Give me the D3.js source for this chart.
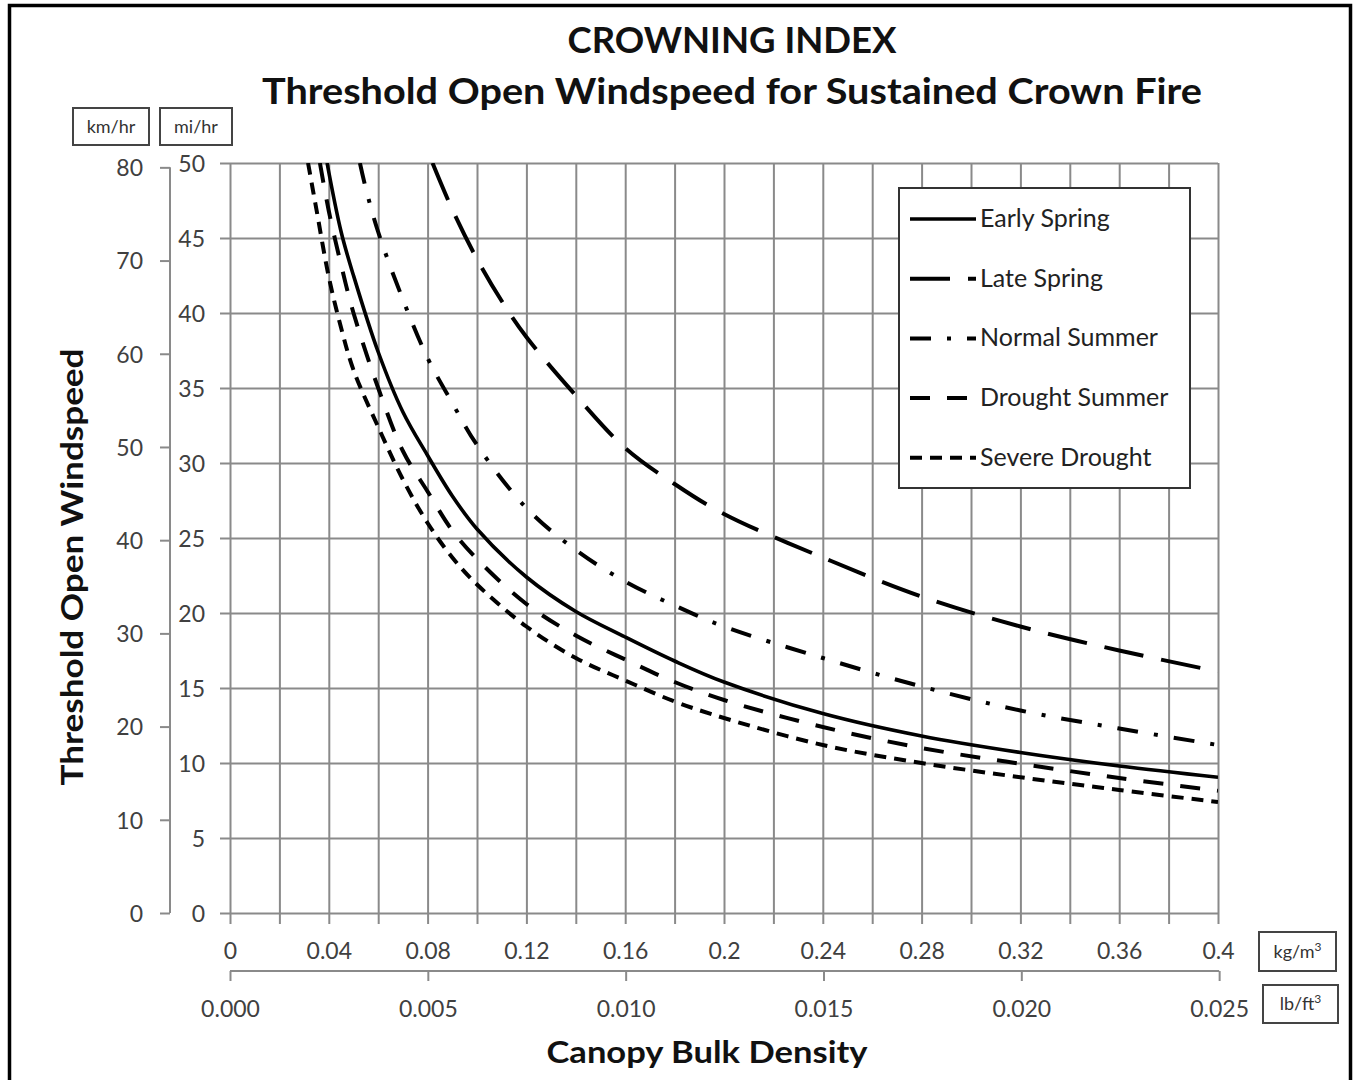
<!DOCTYPE html>
<html>
<head>
<meta charset="utf-8">
<script src="https://cdn.jsdelivr.net/npm/d3@7"></script>
<style>
  html, body { margin: 0; padding: 0; background: #fff; }
  svg { display: block; }
  text { font-family: Lato, "Open Sans", "DejaVu Sans", sans-serif; }
</style>
</head>
<body>
<svg id="chart" width="1354" height="1080"></svg>
<script>
// ---- Data: threshold open windspeed (mi/hr) vs canopy bulk density (kg/m3) ----
const earlySpringCBD = [0.0393, 0.045, 0.05, 0.06, 0.07, 0.08, 0.09, 0.10, 0.12, 0.14, 0.16, 0.18, 0.20, 0.24, 0.28, 0.32, 0.36, 0.40];
const earlySpringMph = [50, 45.4, 42.5, 37.4, 33.4, 30.5, 27.8, 25.6, 22.4, 20.1, 18.4, 16.8, 15.4, 13.3, 11.8, 10.7, 9.8, 9.05];

const lateSpringCBD = [0.082, 0.09, 0.10, 0.11, 0.12, 0.14, 0.16, 0.18, 0.20, 0.24, 0.28, 0.32, 0.36, 0.40];
const lateSpringMph = [50, 46.9, 43.6, 40.8, 38.4, 34.5, 31.0, 28.6, 26.6, 23.7, 21.1, 19.1, 17.5, 16.1];

const normalSummerCBD = [0.0526, 0.055, 0.06, 0.07, 0.08, 0.09, 0.10, 0.12, 0.14, 0.16, 0.18, 0.20, 0.24, 0.28, 0.32, 0.36, 0.40];
const normalSummerMph = [50, 48.3, 45.4, 40.9, 37.0, 34.0, 31.2, 27.0, 24.2, 22.1, 20.5, 19.1, 17.0, 15.1, 13.5, 12.3, 11.2];

const droughtSummerCBD = [0.0364, 0.04, 0.045, 0.05, 0.06, 0.07, 0.08, 0.09, 0.10, 0.12, 0.14, 0.16, 0.18, 0.20, 0.24, 0.28, 0.32, 0.36, 0.40];
const droughtSummerMph = [50, 46.8, 43.2, 40.0, 35.0, 30.8, 28.1, 25.5, 23.6, 20.6, 18.5, 16.9, 15.4, 14.2, 12.4, 11.0, 9.95, 9.0, 8.15];

const severeDroughtCBD = [0.0316, 0.035, 0.04, 0.045, 0.05, 0.06, 0.07, 0.08, 0.09, 0.10, 0.12, 0.14, 0.16, 0.18, 0.20, 0.24, 0.28, 0.32, 0.36, 0.40];
const severeDroughtMph = [50, 46.9, 42.4, 39.0, 36.2, 32.4, 28.9, 26.0, 23.7, 21.9, 19.1, 17.0, 15.5, 14.1, 13.0, 11.2, 10.0, 9.05, 8.2, 7.4];

const seriesNames = ["Early Spring", "Late Spring", "Normal Summer", "Drought Summer", "Severe Drought"];

// ---- Tick values and labels ----
const densityGrid = [0, 0.02, 0.04, 0.06, 0.08, 0.10, 0.12, 0.14, 0.16, 0.18, 0.20, 0.22, 0.24, 0.26, 0.28, 0.30, 0.32, 0.34, 0.36, 0.38, 0.40];
const densityTicks = [0, 0.04, 0.08, 0.12, 0.16, 0.2, 0.24, 0.28, 0.32, 0.36, 0.4];
const densityLabels = ["0", "0.04", "0.08", "0.12", "0.16", "0.2", "0.24", "0.28", "0.32", "0.36", "0.4"];
const lbTicks = [0, 0.005, 0.010, 0.015, 0.020, 0.025];
const lbLabels = ["0.000", "0.005", "0.010", "0.015", "0.020", "0.025"];
const mphTicks = [0, 5, 10, 15, 20, 25, 30, 35, 40, 45, 50];
const kmhTicks = [0, 10, 20, 30, 40, 50, 60, 70, 80];

const MI_PER_KM = 0.621371;
const KG_M3_PER_LB_FT3 = 16.0185;

// ---- Layout ----
const svg = d3.select("#chart");
const L = 230, R = 1218, T = 163, B = 913;
const gridGray = "#8a8a8a";
const labelColor = "#404040";
const tickFont = 23;

const x = d3.scaleLinear().domain([0, 0.4]).range([L, R]);
const y = d3.scaleLinear().domain([0, 50]).range([B, T]);
const yKm = d3.scaleLinear().domain([0, 50 / MI_PER_KM]).range([B, T]);
const xLb = d3.scaleLinear().domain([0, 0.4 / KG_M3_PER_LB_FT3]).range([L, R]);

svg.append("rect").attr("width", 1354).attr("height", 1080).attr("fill", "#fff");

// Outer frame
svg.append("rect")
  .attr("x", 9.5).attr("y", 5.5).attr("width", 1341).attr("height", 1100)
  .attr("fill", "none").attr("stroke", "#000").attr("stroke-width", 3.5);

// ---- Titles ----
svg.append("text").attr("x", 732).attr("y", 53).attr("text-anchor", "middle")
  .attr("font-size", 36).attr("font-weight", 700).attr("fill", "#111")
  .attr("textLength", 329).attr("lengthAdjust", "spacingAndGlyphs")
  .text("CROWNING INDEX");
svg.append("text").attr("x", 732).attr("y", 104).attr("text-anchor", "middle")
  .attr("font-size", 37).attr("font-weight", 700).attr("fill", "#111")
  .attr("textLength", 940).attr("lengthAdjust", "spacingAndGlyphs")
  .text("Threshold Open Windspeed for Sustained Crown Fire");

// ---- Grid (vertical) with ticks below the axis ----
const gx = svg.append("g").attr("transform", `translate(0,${B + 11})`)
  .call(d3.axisBottom(x).tickValues(densityGrid).tickSize(-(B + 11 - T)).tickFormat(""));
gx.select(".domain").remove();
gx.selectAll(".tick line").attr("stroke", gridGray).attr("stroke-width", 2);

// ---- Grid (horizontal) with ticks left of the plot ----
const gy = svg.append("g").attr("transform", `translate(${L - 10},0)`)
  .call(d3.axisLeft(y).tickValues(mphTicks).tickSize(-(R - L + 10)).tickFormat(""));
gy.select(".domain").remove();
gy.selectAll(".tick line").attr("stroke", gridGray).attr("stroke-width", 2);

// ---- x labels (kg/m3) ----
const xl = svg.append("g").attr("transform", `translate(0,${B})`)
  .call(d3.axisBottom(x).tickValues(densityTicks).tickSize(0)
    .tickFormat((d, i) => densityLabels[i]));
xl.select(".domain").remove();
xl.selectAll("text").attr("y", 46).attr("dy", 0).attr("font-size", tickFont)
  .attr("fill", labelColor).style("font-family", "Lato, sans-serif");

// ---- secondary x axis (lb/ft3) ----
const xb = svg.append("g").attr("transform", `translate(0,971)`)
  .call(d3.axisBottom(xLb).tickValues(lbTicks).tickSize(10).tickSizeOuter(0)
    .tickFormat((d, i) => lbLabels[i]));
xb.select(".domain").attr("stroke", gridGray).attr("stroke-width", 2)
  .attr("d", `M${L},0H${xLb(lbTicks[lbTicks.length - 1])}`);
xb.selectAll(".tick line").attr("stroke", gridGray).attr("stroke-width", 2);
xb.selectAll("text").attr("y", 46).attr("dy", 0).attr("font-size", tickFont)
  .attr("fill", labelColor).style("font-family", "Lato, sans-serif");

// ---- y labels (mi/hr) ----
const yl = svg.append("g").attr("transform", `translate(${L - 25},0)`)
  .call(d3.axisLeft(y).tickValues(mphTicks).tickSize(0));
yl.select(".domain").remove();
yl.selectAll("text").attr("x", 0).attr("dy", "0.36em").attr("font-size", tickFont)
  .attr("fill", labelColor).style("font-family", "Lato, sans-serif");

// ---- secondary y axis (km/hr) ----
const yk = svg.append("g").attr("transform", `translate(170,0)`)
  .call(d3.axisLeft(yKm).tickValues(kmhTicks).tickSize(10).tickSizeOuter(0).tickPadding(17));
yk.select(".domain").attr("stroke", gridGray).attr("stroke-width", 2)
  .attr("d", `M0,${B}V${yKm(80)}`);
yk.selectAll(".tick line").attr("stroke", gridGray).attr("stroke-width", 2);
yk.selectAll("text").attr("dy", "0.36em").attr("font-size", tickFont)
  .attr("fill", labelColor).style("font-family", "Lato, sans-serif");

// ---- unit boxes ----
function unitBox(x0, y0, w, h, label, sup) {
  svg.append("rect").attr("x", x0).attr("y", y0).attr("width", w).attr("height", h)
    .attr("fill", "#fff").attr("stroke", "#444").attr("stroke-width", 2);
  const t = svg.append("text").attr("x", x0 + w / 2).attr("y", y0 + h / 2 + 6)
    .attr("text-anchor", "middle").attr("font-size", 18).attr("fill", "#333").text(label);
  if (sup) t.append("tspan").attr("font-size", 12).attr("dy", -7).text(sup);
}
unitBox(73, 108, 76, 37, "km/hr");
unitBox(160, 108, 72, 37, "mi/hr");
unitBox(1259, 932, 77, 39, "kg/m", "3");
unitBox(1263, 985, 75, 38, "lb/ft", "3");

// ---- axis titles ----
svg.append("text").attr("transform", "translate(83,567) rotate(-90)")
  .attr("text-anchor", "middle").attr("font-size", 30).attr("font-weight", 700)
  .attr("fill", "#111").attr("textLength", 437).attr("lengthAdjust", "spacingAndGlyphs")
  .text("Threshold  Open  Windspeed");
svg.append("text").attr("x", 707).attr("y", 1063).attr("text-anchor", "middle")
  .attr("font-size", 30).attr("font-weight", 700).attr("fill", "#111")
  .attr("textLength", 321).attr("lengthAdjust", "spacingAndGlyphs")
  .text("Canopy  Bulk  Density");

// ---- curves ----
svg.append("clipPath").attr("id", "plotClip")
  .append("rect").attr("x", L).attr("y", T).attr("width", R - L).attr("height", B - T);

const styles = [
  { dash: null, width: 3.6 },
  { dash: "40,18", width: 4 },
  { dash: "21,16,4,16", width: 4 },
  { dash: "20,17", width: 4 },
  { dash: "12,8", width: 4 }
];
const seriesX = [earlySpringCBD, lateSpringCBD, normalSummerCBD, droughtSummerCBD, severeDroughtCBD];
const seriesY = [earlySpringMph, lateSpringMph, normalSummerMph, droughtSummerMph, severeDroughtMph];

const line = d3.line().x(d => x(d[0])).y(d => y(d[1])).curve(d3.curveCatmullRom.alpha(0.5));
const curves = svg.append("g").attr("clip-path", "url(#plotClip)");
seriesNames.forEach((name, i) => {
  const pts = seriesX[i].map((v, j) => [v, seriesY[i][j]]);
  curves.append("path").datum(pts)
    .attr("d", line)
    .attr("fill", "none").attr("stroke", "#000")
    .attr("stroke-width", styles[i].width)
    .attr("stroke-dasharray", styles[i].dash);
});

// ---- legend ----
const lg = svg.append("g");
lg.append("rect").attr("x", 899).attr("y", 188).attr("width", 291).attr("height", 300)
  .attr("fill", "#fff").attr("stroke", "#333").attr("stroke-width", 2);
seriesNames.forEach((name, i) => {
  const cy = 219 + i * 59.7;
  lg.append("line").attr("x1", 910).attr("x2", 976).attr("y1", cy).attr("y2", cy)
    .attr("stroke", "#000").attr("stroke-width", styles[i].width)
    .attr("stroke-dasharray", styles[i].dash);
  lg.append("text").attr("x", 980).attr("y", cy + 8).attr("font-size", 25)
    .attr("fill", "#222").text(name);
});
</script>
</body>
</html>
